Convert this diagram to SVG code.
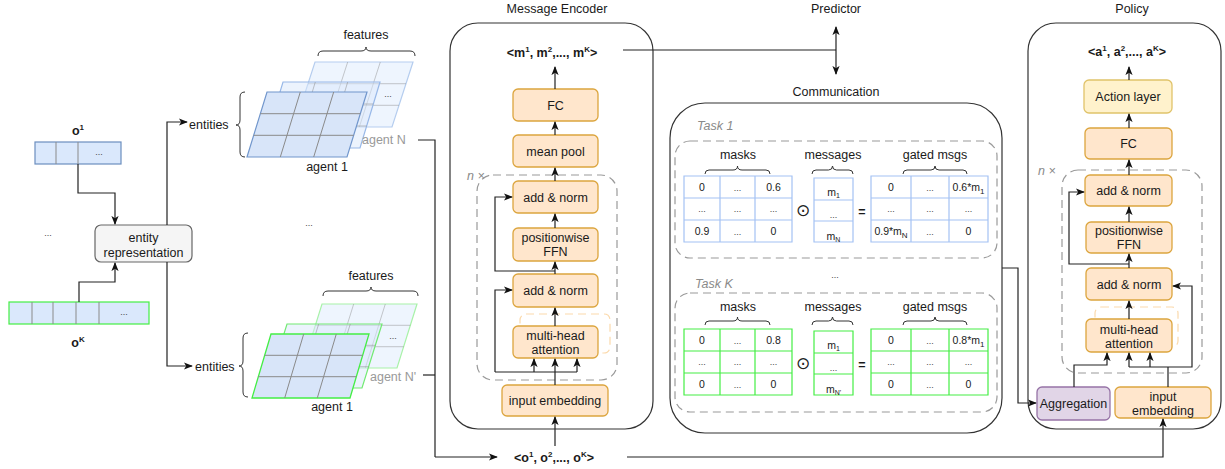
<svg xmlns="http://www.w3.org/2000/svg" width="1225" height="469" viewBox="0 0 1225 469">
<defs>
<marker id="ar" viewBox="0 0 10 8" markerWidth="9" markerHeight="8" refX="9" refY="4" orient="auto-start-reverse" markerUnits="userSpaceOnUse"><path d="M0,0 L10,4 L0,8 L2.5,4 z" fill="#111"/></marker>
<style>
.t{font-family:"Liberation Sans",Arial,sans-serif;font-size:12.5px;fill:#1a1a1a;text-anchor:middle}
.s{font-size:10.5px}
.d{font-size:9px;fill:#444}
.b{font-weight:bold}
.st{text-anchor:start}
.gr{fill:#999}
.it{font-style:italic;fill:#8a8a8a;text-anchor:start}
.ob{fill:#ffe6cc;stroke:#dca53e;stroke-width:1.3}
.yb{fill:#fff2cc;stroke:#e0c36a;stroke-width:1.3}
.pb{fill:#e1d5e7;stroke:#9673a6;stroke-width:1.3}
.cont{fill:#fff;stroke:#333;stroke-width:1.2}
.dash{fill:none;stroke:#9a9a9a;stroke-width:1.2;stroke-dasharray:8 5}
.sh{fill:none;stroke:#fbd9ab;stroke-width:1.2;stroke-dasharray:8 5}
.ln{fill:none;stroke:#222;stroke-width:1.2}
.a{marker-end:url(#ar)}
.br{fill:none;stroke:#333;stroke-width:1}
.gl{stroke:#8a8a8a;stroke-width:1;fill:none}
.cb{fill:#fff;stroke:#a4c2f4;stroke-width:1.2}
.cg{fill:#fff;stroke:#44ee44;stroke-width:1.2}
.shd{fill:#ebe3ee}
</style>
</defs>
<rect width="1225" height="469" fill="#fff"/>

<!-- containers -->
<g id="message-encoder-container">
<rect class="cont" x="450" y="23" width="203" height="406" rx="28"/>
<text class="t" x="557" y="13">Message Encoder</text>
</g>
<g id="communication-container">
<rect class="cont" x="670" y="103" width="332" height="330" rx="35"/>
<text class="t" x="836" y="96">Communication</text>
</g>
<g id="policy-container">
<rect class="cont" x="1028" y="23" width="193" height="406" rx="28"/>
<text class="t" x="1132" y="13">Policy</text>
</g>
<g id="predictor"><text class="t" x="836" y="13">Predictor</text></g>

<!-- left observations -->
<g id="o1">
<text class="t b" x="78" y="135">o<tspan dy="-5" font-size="8">1</tspan></text>
<rect x="35" y="142" width="86" height="22" fill="#dae8fc" stroke="#6c8ebf" stroke-width="1.2"/>
<path class="gl" d="M56,142V164M78,142V164"/>
<text class="t d" x="99" y="155">...</text>
</g>
<g id="oK">
<rect x="9" y="302" width="140" height="22" fill="#dae8fc" stroke="#44ee44" stroke-width="1.2"/>
<path class="gl" d="M32,302V324M53,302V324M76,302V324M99,302V324"/>
<text class="t d" x="124" y="315">...</text>
<text class="t b" x="78" y="347">o<tspan dy="-5" font-size="8">K</tspan></text>
</g>
<g id="left-dots"><text class="t d" x="48" y="236">...</text></g>
<g id="entity-representation">
<rect x="95" y="225" width="97" height="37" rx="6" fill="#f5f5f5" stroke="#666" stroke-width="1.2"/>
<text class="t" x="143.5" y="242">entity</text>
<text class="t" x="143.5" y="257">representation</text>
</g>

<!-- feature stacks top -->
<g id="features-top">
<text class="t" x="366" y="39">features</text>
<path class="br" d="M318,56 Q318,51 323,51 H361 Q366,51 366,47 Q366,51 371,51 H410 Q415,51 415,56"/>
<polygon points="315,62 413,62 392,127 294,127" fill="#dae8fc" fill-opacity="0.45" stroke="#b5cdef" stroke-width="1.2"/>
<path class="gl" stroke-opacity="0.45" d="M347.7,62L326.7,127M380.3,62L359.3,127M308,83.7H406M301,105.3H399"/>
<text class="t d" x="388" y="97">...</text>
<polygon points="283,82 380,82 360,148 263,148" fill="#dae8fc" fill-opacity="0.5" stroke="#98b8e8" stroke-width="1.2"/>
<path class="gl" stroke-opacity="0.5" d="M315.3,82L295.3,148M347.7,82L327.7,148M276.3,104H373.3M269.7,126H366.7"/>
<polygon points="267,92 367,92 347,157 247,157" fill="#d8e5f9" stroke="#7196cc" stroke-width="1.2"/>
<path class="gl" d="M300.3,92L280.3,157M333.7,92L313.7,157M260.3,113.7H360.3M253.7,135.3H353.7"/>
<text class="t gr st" x="362" y="144">agent N</text>
<text class="t" x="327" y="171">agent 1</text>
<path class="br" d="M245,92 Q240,92 240,97 V120 Q240,125 236,125 Q240,125 240,130 V152 Q240,157 245,157"/>
<text class="t st" x="189" y="129">entities</text>
</g>
<g id="middle-dots"><text class="t d" x="309" y="226">...</text></g>

<!-- feature stacks bottom -->
<g id="features-bottom">
<text class="t" x="371" y="280">features</text>
<path class="br" d="M323,296 Q323,291 328,291 H366 Q371,291 371,287 Q371,291 376,291 H413 Q418,291 418,296"/>
<polygon points="322,304 417,304 397,368 302,368" fill="#dae8fc" fill-opacity="0.45" stroke="#a8f2a8" stroke-width="1.2"/>
<path class="gl" stroke-opacity="0.45" d="M353.7,304L333.7,368M385.3,304L365.3,368M315.3,325.3H410.3M308.7,346.7H403.7"/>
<text class="t d" x="393" y="339">...</text>
<polygon points="287,324 382,324 362,388 267,388" fill="#dae8fc" fill-opacity="0.5" stroke="#72ea72" stroke-width="1.2"/>
<path class="gl" stroke-opacity="0.5" d="M318.7,324L298.7,388M350.3,324L330.3,388M280.3,345.3H375.3M273.7,366.7H368.7"/>
<polygon points="271,334 369,334 350,398 252,398" fill="#d8e5f9" stroke="#44ee44" stroke-width="1.3"/>
<path class="gl" d="M303.7,334L284.7,398M336.3,334L317.3,398M264.7,355.3H362.7M258.3,376.7H356.3"/>
<text class="t gr st" x="370" y="381">agent N'</text>
<text class="t" x="332" y="411">agent 1</text>
<path class="br" d="M248,333 Q243,333 243,338 V361 Q243,366 239,366 Q243,366 243,371 V392 Q243,397 248,397"/>
<text class="t st" x="195" y="371">entities</text>
</g>

<!-- message encoder nodes -->
<g id="me-output"><text class="t b" x="552" y="57">&lt;m<tspan dy="-5" font-size="8">1</tspan><tspan dy="5">, m</tspan><tspan dy="-5" font-size="8">2</tspan><tspan dy="5">,..., m</tspan><tspan dy="-5" font-size="8">K</tspan><tspan dy="5">&gt;</tspan></text></g>
<g id="me-fc"><rect class="ob" x="513" y="89" width="85" height="32" rx="5"/><text class="t" x="555.5" y="109.5">FC</text></g>
<g id="me-meanpool"><rect class="ob" x="513" y="135" width="85" height="32" rx="5"/><text class="t" x="555.5" y="155.5">mean pool</text></g>
<g id="me-block">
<rect class="dash" x="477" y="175" width="140" height="205" rx="16"/>
<text class="t it" x="467" y="180">n ×</text>
</g>
<g id="me-addnorm1"><rect class="ob" x="513" y="181" width="85" height="32" rx="5"/><text class="t" x="555.5" y="201.5">add &amp; norm</text></g>
<g id="me-ffn"><rect class="ob" x="513" y="228" width="85" height="33" rx="5"/><text class="t" x="555.5" y="242">positionwise</text><text class="t" x="555.5" y="256">FFN</text></g>
<g id="me-addnorm2"><rect class="ob" x="513" y="274" width="85" height="33" rx="5"/><text class="t" x="555.5" y="295">add &amp; norm</text></g>
<g id="me-mha"><rect class="sh" x="520" y="314" width="90" height="39" rx="6"/><rect class="ob" x="513" y="326" width="85" height="32" rx="5"/><text class="t" x="555.5" y="340">multi-head</text><text class="t" x="555.5" y="354">attention</text></g>
<g id="me-input"><rect class="ob" x="502" y="385" width="106" height="31" rx="5"/><text class="t" x="555" y="404.5">input embedding</text></g>

<g id="obs-all"><text class="t b" x="554" y="462">&lt;o<tspan dy="-5" font-size="8">1</tspan><tspan dy="5">, o</tspan><tspan dy="-5" font-size="8">2</tspan><tspan dy="5">,..., o</tspan><tspan dy="-5" font-size="8">K</tspan><tspan dy="5">&gt;</tspan></text></g>

<!-- communication tasks -->
<g id="task-1">
<text class="t it" x="697" y="130">Task 1</text>
<rect class="dash" x="675" y="141" width="322" height="117" rx="15"/>
<text class="t" x="738" y="159">masks</text>
<path class="br" d="M705,174 Q705,170 709,170 H733 Q737.5,170 737.5,166 Q737.5,170 742,170 H766 Q770,170 770,174"/>
<text class="t" x="833" y="159">messages</text>
<path class="br" d="M812,174 Q812,170 816,170 H828.5 Q832.5,170 832.5,166 Q832.5,170 836.5,170 H849 Q853,170 853,174"/>
<text class="t" x="935" y="159">gated msgs</text>
<path class="br" d="M903,174 Q903,170 907,170 H931 Q935,170 935,166 Q935,170 939,170 H963 Q967,170 967,174"/>
<rect class="shd" x="755" y="176" width="37" height="22"/><rect class="shd" x="684" y="220" width="36" height="22"/>
<path class="cb" fill="none" d="M684,176H792V242H684Z M720,176V242 M755,176V242 M684,198H792 M684,220H792"/>
<text class="t s" x="702" y="191">0</text><text class="t d" x="737.5" y="191">...</text><text class="t s" x="773.5" y="191">0.6</text>
<text class="t d" x="702" y="212">...</text><text class="t d" x="737.5" y="212">...</text><text class="t d" x="773.5" y="212">...</text>
<text class="t s" x="702" y="235">0.9</text><text class="t d" x="737.5" y="235">...</text><text class="t s" x="773.5" y="235">0</text>
<text x="803" y="216" font-family="DejaVu Sans,sans-serif" font-size="17" text-anchor="middle" fill="#222">⊙</text>
<path class="cb" fill="none" d="M814,178H853V242H814Z M814,200H853 M814,221H853"/>
<text class="t s" x="833.5" y="196" font-size="9">m<tspan dy="2" font-size="7">1</tspan></text>
<text class="t d" x="833.5" y="218">...</text>
<text class="t s" x="833.5" y="240" font-size="9">m<tspan dy="2" font-size="7">N</tspan></text>
<text class="t b" x="862" y="216" font-size="17">=</text>
<rect class="shd" x="949" y="176" width="39" height="22"/><rect class="shd" x="871" y="220" width="40" height="22"/>
<path class="cb" fill="none" d="M871,176H988V242H871Z M911,176V242 M949,176V242 M871,198H988 M871,220H988"/>
<text class="t s" x="891" y="191">0</text><text class="t d" x="930" y="191">...</text><text class="t s" x="968.5" y="191">0.6*m<tspan dy="3" font-size="8">1</tspan></text>
<text class="t d" x="891" y="212">...</text><text class="t d" x="930" y="212">...</text><text class="t d" x="968.5" y="212">...</text>
<text class="t s" x="891" y="235">0.9*m<tspan dy="3" font-size="8">N</tspan></text><text class="t d" x="930" y="235">...</text><text class="t s" x="968.5" y="235">0</text>
</g>
<g id="task-dots"><text class="t d" x="835" y="278">...</text></g>
<g id="task-K">
<text class="t it" x="695" y="288">Task K</text>
<g transform="translate(0,153)">
<rect class="dash" x="675" y="140" width="322" height="119" rx="15"/>
<text class="t" x="738" y="158">masks</text>
<path class="br" d="M705,172 Q705,168 709,168 H733 Q737.5,168 737.5,164 Q737.5,168 742,168 H766 Q770,168 770,172"/>
<text class="t" x="833" y="158">messages</text>
<path class="br" d="M812,172 Q812,168 816,168 H828.5 Q832.5,168 832.5,164 Q832.5,168 836.5,168 H849 Q853,168 853,172"/>
<text class="t" x="935" y="158">gated msgs</text>
<path class="br" d="M903,172 Q903,168 907,168 H931 Q935,168 935,164 Q935,168 939,168 H963 Q967,168 967,172"/>
<rect class="shd" x="755" y="176" width="37" height="22"/><rect class="shd" x="684" y="220" width="36" height="22"/>
<path class="cg" fill="none" d="M684,176H792V242H684Z M720,176V242 M755,176V242 M684,198H792 M684,220H792"/>
<text class="t s" x="702" y="191">0</text><text class="t d" x="737.5" y="191">...</text><text class="t s" x="773.5" y="191">0.8</text>
<text class="t d" x="702" y="212">...</text><text class="t d" x="737.5" y="212">...</text><text class="t d" x="773.5" y="212">...</text>
<text class="t s" x="702" y="235">0</text><text class="t d" x="737.5" y="235">...</text><text class="t s" x="773.5" y="235">0</text>
<text x="803" y="216" font-family="DejaVu Sans,sans-serif" font-size="17" text-anchor="middle" fill="#222">⊙</text>
<path class="cg" fill="none" d="M814,178H853V242H814Z M814,200H853 M814,221H853"/>
<text class="t s" x="833.5" y="196" font-size="9">m<tspan dy="2" font-size="7">1</tspan></text>
<text class="t d" x="833.5" y="218">...</text>
<text class="t s" x="833.5" y="240" font-size="9">m<tspan dy="2" font-size="7">N'</tspan></text>
<text class="t b" x="862" y="216" font-size="17">=</text>
<rect class="shd" x="949" y="176" width="39" height="22"/><rect class="shd" x="871" y="220" width="40" height="22"/>
<path class="cg" fill="none" d="M871,176H988V242H871Z M911,176V242 M949,176V242 M871,198H988 M871,220H988"/>
<text class="t s" x="891" y="191">0</text><text class="t d" x="930" y="191">...</text><text class="t s" x="968.5" y="191">0.8*m<tspan dy="3" font-size="8">1</tspan></text>
<text class="t d" x="891" y="212">...</text><text class="t d" x="930" y="212">...</text><text class="t d" x="968.5" y="212">...</text>
<text class="t s" x="891" y="235">0</text><text class="t d" x="930" y="235">...</text><text class="t s" x="968.5" y="235">0</text>
</g>
</g>

<!-- policy nodes -->
<g id="pol-output"><text class="t b" x="1127" y="56">&lt;a<tspan dy="-5" font-size="8">1</tspan><tspan dy="5">, a</tspan><tspan dy="-5" font-size="8">2</tspan><tspan dy="5">,..., a</tspan><tspan dy="-5" font-size="8">K</tspan><tspan dy="5">&gt;</tspan></text></g>
<g id="pol-action"><rect class="yb" x="1084" y="80" width="88" height="33" rx="5"/><text class="t" x="1128" y="101">Action layer</text></g>
<g id="pol-fc"><rect class="ob" x="1085" y="128" width="87" height="31" rx="5"/><text class="t" x="1128.5" y="148">FC</text></g>
<g id="pol-block">
<rect class="dash" x="1062" y="170" width="140" height="203" rx="16"/>
<text class="t it" x="1038" y="175">n ×</text>
</g>
<g id="pol-addnorm1"><rect class="ob" x="1085" y="175" width="87" height="31" rx="5"/><text class="t" x="1128.5" y="195">add &amp; norm</text></g>
<g id="pol-ffn"><rect class="ob" x="1086" y="222" width="86" height="31" rx="5"/><text class="t" x="1129" y="234.5">positionwise</text><text class="t" x="1129" y="249">FFN</text></g>
<g id="pol-addnorm2"><rect class="ob" x="1086" y="268" width="86" height="32" rx="5"/><text class="t" x="1129" y="288.5">add &amp; norm</text></g>
<g id="pol-mha"><rect class="sh" x="1095" y="307" width="83" height="40" rx="6"/><rect class="ob" x="1086" y="319" width="86" height="33" rx="5"/><text class="t" x="1129" y="333.5">multi-head</text><text class="t" x="1129" y="348">attention</text></g>
<g id="pol-aggregation"><rect class="pb" x="1037" y="387" width="73" height="33" rx="5"/><text class="t" x="1073.5" y="408">Aggregation</text></g>
<g id="pol-input"><rect class="ob" x="1115" y="387" width="96" height="31" rx="5"/><text class="t" x="1163" y="401">input</text><text class="t" x="1163" y="415">embedding</text></g>

<!-- connectors -->
<g id="connectors">
<path class="ln a" d="M78,164V193H115V224"/>
<path class="ln a" d="M79,302V282H115V263"/>
<path class="ln a" d="M167,225V122H187"/>
<path class="ln a" d="M167,262V366H192"/>
<path class="ln" d="M418,140H435V457"/>
<path class="ln" d="M423,375H435"/>
<path class="ln a" d="M435,457H497"/>
<path class="ln a" d="M555,446V417"/>
<path class="ln a" d="M555,385V359"/>
<path class="ln" d="M495,372H577"/>
<path class="ln a" d="M534,372V359"/>
<path class="ln a" d="M577,372V359"/>
<path class="ln a" d="M495,372V290H512"/>
<path class="ln a" d="M555,326V308"/>
<path class="ln a" d="M555,274V262"/>
<path class="ln a" d="M555,271H495V197H512"/>
<path class="ln a" d="M555,228V214"/>
<path class="ln a" d="M555,181V168"/>
<path class="ln a" d="M555,135V122"/>
<path class="ln a" d="M555,89V67"/>
<path class="ln" d="M623,50H836"/>
<path class="ln a" d="M836,50V74"/>
<path class="ln a" d="M836,50V27"/>
<path class="ln a" d="M1002,268H1018V403H1036"/>
<path class="ln a" d="M627,457H1163V419"/>
<path class="ln a" d="M1074,387V365H1107V353"/>
<path class="ln" d="M1168,387V367"/>
<path class="ln a" d="M1129,367H1192V286H1173"/>
<path class="ln a" d="M1129,367V353"/>
<path class="ln a" d="M1150,367V353"/>
<path class="ln a" d="M1129,319V301"/>
<path class="ln a" d="M1129,268V254"/>
<path class="ln a" d="M1129,264H1069V192H1084"/>
<path class="ln a" d="M1129,222V207"/>
<path class="ln a" d="M1129,175V160"/>
<path class="ln a" d="M1129,128V114"/>
<path class="ln a" d="M1129,80V67"/>
</g>
</svg>
